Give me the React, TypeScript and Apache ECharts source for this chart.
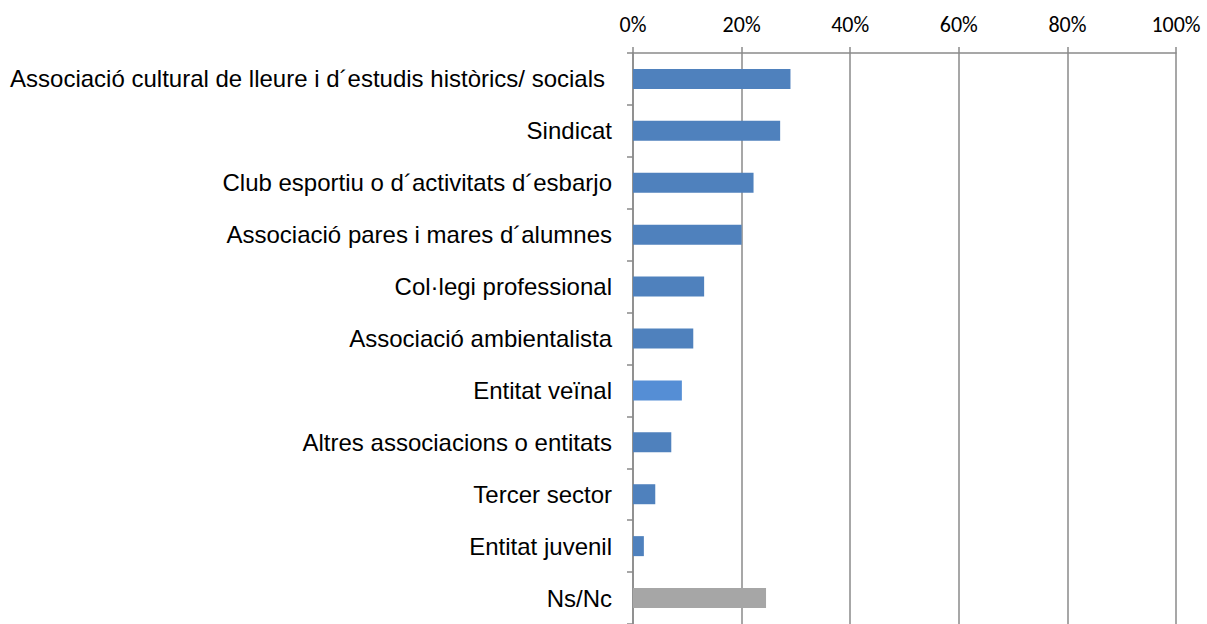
import React, { useEffect, useRef } from "react";
import * as echarts from "echarts";

const categories = [
  "Associació cultural de lleure i d´estudis històrics/ socials",
  "Sindicat",
  "Club esportiu o d´activitats d´esbarjo",
  "Associació pares i mares d´alumnes",
  "Col·legi professional",
  "Associació ambientalista",
  "Entitat veïnal",
  "Altres associacions o entitats",
  "Tercer sector",
  "Entitat juvenil",
  "Ns/Nc",
];
const values = [29.0, 27.1, 22.2, 20.0, 13.1, 11.1, 9.0, 7.05, 4.1, 2.0, 24.5];
const barColors = [
  "#4F81BD", "#4F81BD", "#4F81BD", "#4F81BD", "#4F81BD", "#4F81BD",
  "#558ED5", "#4F81BD", "#4F81BD", "#4F81BD", "#A6A6A6",
];
const xTicks = [0, 20, 40, 60, 80, 100];

export default function App() {
  const ref = useRef<HTMLDivElement>(null);
  useEffect(() => {
    if (!ref.current) return;
    const chart = echarts.init(ref.current, undefined, { renderer: "svg" });
    const gridColor = "#8A8A8A";
    chart.setOption({
      animation: false,
      backgroundColor: "#ffffff",
      grid: { left: 633, top: 53, right: 31, height: 577, containLabel: false },
      xAxis: {
        type: "value",
        position: "top",
        min: xTicks[0],
        max: xTicks[xTicks.length - 1],
        interval: 20,
        axisLine: { show: true, lineStyle: { color: gridColor, width: 1.5 } },
        axisTick: { show: true, length: 6, lineStyle: { color: gridColor, width: 1.5 } },
        splitLine: { show: true, lineStyle: { color: gridColor, width: 1.5 } },
        axisLabel: {
          formatter: "{value}%",
          color: "#000",
          fontSize: 22,
          fontFamily: "Carlito, Lato, 'Open Sans', sans-serif",
          margin: 18,
        },
      },
      yAxis: {
        type: "category",
        inverse: true,
        data: categories.map((c, i) =>
          i === 0 ? { value: c, textStyle: { padding: [0, 7, 0, 0] } } : c
        ),
        axisLine: { show: true, lineStyle: { color: gridColor, width: 1.5 } },
        axisTick: { show: true, length: 6, lineStyle: { color: gridColor, width: 1.5 } },
        axisLabel: {
          color: "#000",
          fontSize: 24,
          fontFamily: "'Liberation Sans', Arial, sans-serif",
          margin: 21,
        },
      },
      series: [
        {
          type: "bar",
          barWidth: 20,
          data: values.map((v, i) => ({ value: v, itemStyle: { color: barColors[i] } })),
        },
      ],
    });
    return () => chart.dispose();
  }, []);
  return (
    <div
      ref={ref}
      style={{ position: "fixed", left: 0, top: 0, width: 1207, height: 624, background: "#fff" }}
    />
  );
}
